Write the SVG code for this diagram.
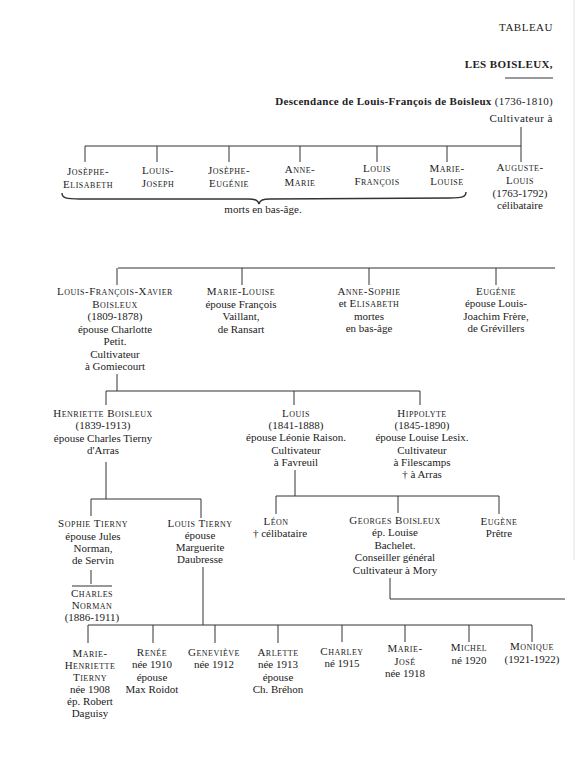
<svg xmlns="http://www.w3.org/2000/svg" width="580" height="768" viewBox="0 0 580 768">
<style>
text{font-family:"Liberation Serif","DejaVu Serif",serif;font-size:11px;fill:#222;text-anchor:middle}
.sc{font-variant:small-caps;letter-spacing:0.5px}
.r{text-anchor:end}
.b{font-weight:bold}
.ln{stroke:#333;stroke-width:1;fill:none}
</style>
<rect width="580" height="768" fill="#fff"/>
<line x1="574" y1="0" x2="574" y2="560" stroke="#e2e2e2" stroke-width="1"/>
<g id="header">
<text x="553" y="31" class="r" style="letter-spacing:0.5px">TABLEAU</text>
<text x="553" y="68" class="r b" style="font-size:11px;letter-spacing:0.4px">LES BOISLEUX,</text>
<line x1="505" y1="78" x2="553" y2="78" class="ln"/>
<text x="553" y="105" class="r" style="letter-spacing:0.3px"><tspan class="b">Descendance de Louis-François de Boisleux</tspan> (1736-1810)</text>
<text x="553" y="122" class="r" style="letter-spacing:0.5px">Cultivateur à</text>
</g>
<g id="connectors" class="ln">
<path d="M521,127V146M85,146H521M85,146V162M157,146V162M229,146V162M300,146V162M377,146V162M447,146V162M521,146V162"/>
<path d="M62,193C62,198 66,199 80,199L248,199C255,199 258,200 259,204C260,200 263,199 270,199L450,198C462,198 466,197 466,192" stroke-width="1.4"/>
<path d="M118,268H555M117,268V285M242,268V285M369,268V285M496,268V285"/>
<path d="M117,374V391M106,391H420M106,391V405M294,391V405M420,391V405"/>
<path d="M106,462V499M91,499H201M91,499V516M201,499V518"/>
<path d="M295,470V496M276,496H499M276,496V514M398,496V513M499,496V514"/>
<path d="M91,570V584M72,586H112"/>
<path d="M203,567V625M88,625H532M88,625V643M153,625V643M215,625V643M278,625V643M342,625V642M405,625V642M469,625V642M532,625V642"/>
<path d="M390,578V599M390,599H565"/>
</g>
<g id="josephe-elisabeth"><text x="88" y="175" class="sc">Josèphe-</text><text x="88" y="188" class="sc">Elisabeth</text></g>
<g id="louis-joseph"><text x="158" y="174" class="sc">Louis-</text><text x="158" y="187" class="sc">Joseph</text></g>
<g id="josephe-eugenie"><text x="229" y="174" class="sc">Josèphe-</text><text x="229" y="187" class="sc">Eugénie</text></g>
<g id="anne-marie"><text x="300" y="173" class="sc">Anne-</text><text x="300" y="186" class="sc">Marie</text></g>
<g id="louis-francois"><text x="377" y="172" class="sc">Louis</text><text x="377" y="185" class="sc">François</text></g>
<g id="marie-louise-1"><text x="447" y="172" class="sc">Marie-</text><text x="447" y="185" class="sc">Louise</text></g>
<g id="auguste-louis"><text x="520" y="171" class="sc">Auguste-</text><text x="520" y="184" class="sc">Louis</text><text x="520" y="197">(1763-1792)</text><text x="520" y="209">célibataire</text></g>
<g id="morts"><text x="263" y="213">morts en bas-âge.</text></g>
<g id="louis-francois-xavier">
<text x="115" y="295" class="sc">Louis-François-Xavier</text>
<text x="115" y="308" class="sc">Boisleux</text>
<text x="115" y="320">(1809-1878)</text>
<text x="115" y="333">épouse Charlotte</text>
<text x="115" y="345">Petit.</text>
<text x="115" y="358">Cultivateur</text>
<text x="115" y="370">à  Gomiecourt</text>
</g>
<g id="marie-louise-2">
<text x="241" y="295" class="sc">Marie-Louise</text>
<text x="241" y="308">épouse François</text>
<text x="241" y="320">Vaillant,</text>
<text x="241" y="333">de  Ransart</text>
</g>
<g id="anne-sophie">
<text x="369" y="295" class="sc">Anne-Sophie</text>
<text x="369" y="307">et <tspan class="sc">Elisabeth</tspan></text>
<text x="369" y="320">mortes</text>
<text x="369" y="332">en bas-âge</text>
</g>
<g id="eugenie-1">
<text x="496" y="295" class="sc">Eugénie</text>
<text x="496" y="307">épouse Louis-</text>
<text x="496" y="320">Joachim Frère,</text>
<text x="496" y="332">de  Grévillers</text>
</g>
<g id="henriette">
<text x="103" y="417" class="sc">Henriette Boisleux</text>
<text x="103" y="429">(1839-1913)</text>
<text x="103" y="442">épouse Charles Tierny</text>
<text x="103" y="454">d'Arras</text>
</g>
<g id="louis-2">
<text x="296" y="417" class="sc">Louis</text>
<text x="296" y="429">(1841-1888)</text>
<text x="296" y="441">épouse Léonie Raison.</text>
<text x="296" y="454">Cultivateur</text>
<text x="296" y="466">à  Favreuil</text>
</g>
<g id="hippolyte">
<text x="422" y="417" class="sc">Hippolyte</text>
<text x="422" y="429">(1845-1890)</text>
<text x="422" y="441">épouse Louise Lesix.</text>
<text x="422" y="454">Cultivateur</text>
<text x="422" y="466">à  Filescamps</text>
<text x="422" y="478">† à  Arras</text>
</g>
<g id="sophie-tierny">
<text x="93" y="527" class="sc">Sophie Tierny</text>
<text x="93" y="540">épouse  Jules</text>
<text x="93" y="552">Norman,</text>
<text x="93" y="564">de Servin</text>
</g>
<g id="charles-norman">
<text x="92" y="597" class="sc">Charles</text>
<text x="92" y="609" class="sc">Norman</text>
<text x="92" y="621">(1886-1911)</text>
</g>
<g id="louis-tierny">
<text x="200" y="527" class="sc">Louis Tierny</text>
<text x="200" y="539">épouse</text>
<text x="200" y="551">Marguerite</text>
<text x="200" y="563">Daubresse</text>
</g>
<g id="leon">
<text x="276" y="525" class="sc">Léon</text>
<text x="280" y="537">† célibataire</text>
</g>
<g id="georges-boisleux">
<text x="395" y="524" class="sc">Georges  Boisleux</text>
<text x="395" y="536">ép. Louise</text>
<text x="395" y="549">Bachelet.</text>
<text x="395" y="561">Conseiller général</text>
<text x="395" y="574">Cultivateur à  Mory</text>
</g>
<g id="eugene">
<text x="499" y="525" class="sc">Eugène</text>
<text x="499" y="537">Prêtre</text>
</g>
<g id="marie-henriette">
<text x="90" y="657" class="sc">Marie-</text>
<text x="90" y="669" class="sc">Henriette</text>
<text x="90" y="681" class="sc">Tierny</text>
<text x="90" y="693">née 1908</text>
<text x="90" y="705">ép. Robert</text>
<text x="90" y="717">Daguisy</text>
</g>
<g id="renee">
<text x="152" y="656" class="sc">Renée</text>
<text x="152" y="668">née 1910</text>
<text x="152" y="681">épouse</text>
<text x="152" y="693">Max Roidot</text>
</g>
<g id="genevieve">
<text x="214" y="656" class="sc">Geneviève</text>
<text x="214" y="668">née 1912</text>
</g>
<g id="arlette">
<text x="278" y="656" class="sc">Arlette</text>
<text x="278" y="668">née 1913</text>
<text x="278" y="681">épouse</text>
<text x="278" y="693">Ch. Bréhon</text>
</g>
<g id="charley">
<text x="342" y="655" class="sc">Charley</text>
<text x="342" y="667">né 1915</text>
</g>
<g id="marie-jose">
<text x="405" y="652" class="sc">Marie-</text>
<text x="405" y="665" class="sc">José</text>
<text x="405" y="677">née 1918</text>
</g>
<g id="michel">
<text x="469" y="651" class="sc">Michel</text>
<text x="469" y="664">né 1920</text>
</g>
<g id="monique">
<text x="532" y="650" class="sc">Monique</text>
<text x="532" y="663">(1921-1922)</text>
</g>
</svg>
